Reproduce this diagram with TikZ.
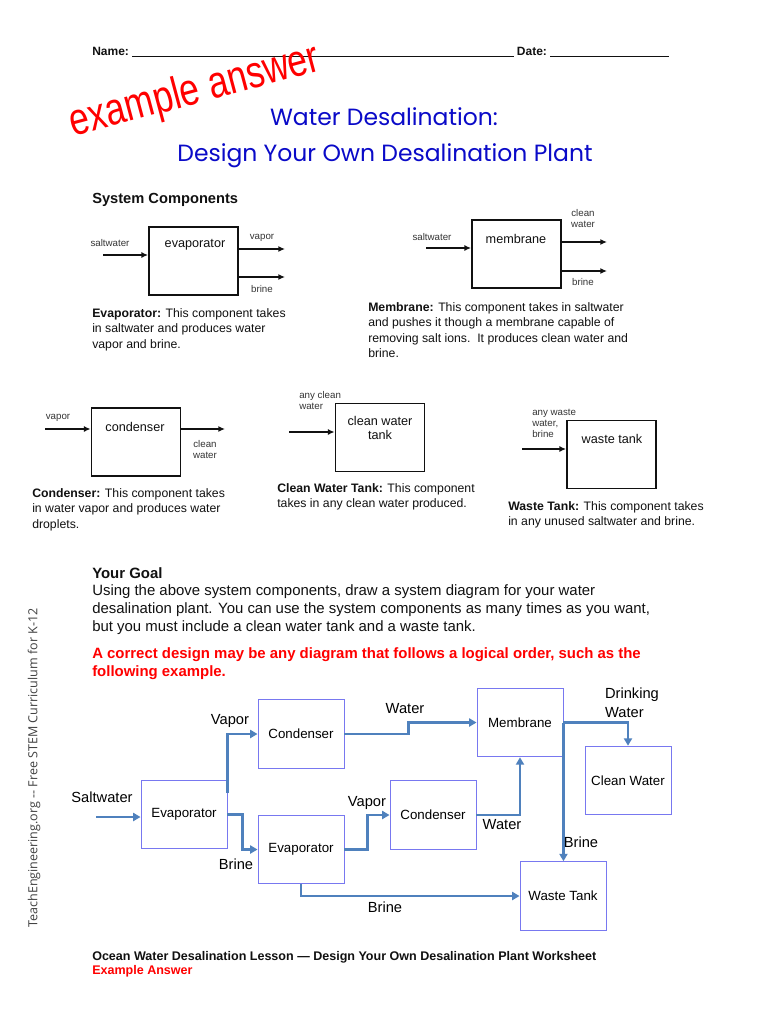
\documentclass[tikz,border=0pt]{standalone}
\usepackage{fontspec}
\setmainfont{Liberation Sans}
\newfontfamily\titlefont{Poppins}
\newfontfamily\sidefont{Open Sans}
\usetikzlibrary{arrows.meta,positioning}
\definecolor{flowblue}{HTML}{4F81BD}
\definecolor{boxblue}{HTML}{7878F0}
\definecolor{titleblue}{HTML}{0A0AC8}
\definecolor{answerred}{HTML}{FF0000}
\definecolor{ink}{HTML}{111111}
\tikzset{
  plain/.style={inner sep=0pt,font=\fontsize{9}{11}\selectfont,text=ink},
  titletext/.style={inner sep=0pt,font=\titlefont\fontsize{17.6}{21}\selectfont,text=titleblue},
  stamp/.style={inner sep=0pt,font=\fontsize{34}{34}\selectfont,text=answerred},
  headtext/.style={inner sep=0pt,font=\bfseries\fontsize{11}{13}\selectfont,text=ink},
  desc/.style={inner sep=0pt,align=left,font=\fontsize{9.2}{11.6}\selectfont,text=ink},
  goaltext/.style={inner sep=0pt,align=left,font=\fontsize{11.2}{13.3}\selectfont,text=ink},
  redtext/.style={inner sep=0pt,align=left,font=\bfseries\fontsize{11.2}{13.5}\selectfont,text=answerred},
  sidetext/.style={inner sep=0pt,font=\sidefont\fontsize{9.4}{10}\selectfont,text=ink!80},
  compbox/.style={draw=ink,line width=1.1pt,minimum width=67pt,minimum height=51pt,inner sep=0pt},
  comptext/.style={inner sep=0pt,align=center,font=\fontsize{9.5}{10}\selectfont,text=ink},
  smalltext/.style={inner sep=0pt,align=center,font=\fontsize{7.3}{8.2}\selectfont,text=ink!85},
  comparr/.style={-{Latex[length=5pt,width=4.5pt]},line width=1.2pt,draw=ink},
  flowbox/.style={draw=boxblue,line width=0.7pt,minimum width=64.5pt,minimum height=51.5pt,
                  inner sep=0pt,align=center,font=\fontsize{10}{12}\selectfont},
  flowarr/.style={-{Triangle[length=5.5pt,width=6pt]},line width=2pt,draw=flowblue},
  flowlabel/.style={inner sep=0pt,align=left,font=\fontsize{11}{14}\selectfont}
}
\begin{document}
\begin{tikzpicture}[x=0.75pt,y=-0.75pt,>=Latex]
\useasboundingbox[fill=white] (0,0) rectangle (770,1024);

\node[plain,anchor=west] (namedate) at (92,52)
  {\textbf{Name:}~\rule[-1pt]{286pt}{0.5pt}~\textbf{Date:}~\rule[-1pt]{89pt}{0.5pt}};
\node[stamp,rotate=15,xscale=0.78] (stamp) at (195,92) {example answer};
\node[titletext] (title1) at (384,117) {Water Desalination:};
\node[titletext] (title2) at (385,156) {Design Your Own Desalination Plant};
\node[headtext,anchor=west] (syscomp) at (92,200) {System Components};

% evaporator
\node[compbox] (evbox) at (193.5,261) {};
\node[comptext] (evtxt) at (195,245) {evaporator};
\coordinate (evin) at (103,255);
\coordinate (evvap) at (285,249);
\coordinate (evbrine) at (285,277);
\draw[comparr] (evin) -- (evin -| evbox.west);
\draw[comparr] (evvap -| evbox.east) -- (evvap);
\draw[comparr] (evbrine -| evbox.east) -- (evbrine);
\node[smalltext] (evsalt) at (110,243) {saltwater};
\node[smalltext] (evvaptxt) at (262,238) {vapor};
\node[smalltext] (evbrinetxt) at (262,289) {brine};
\node[desc,anchor=north west] (evdesc) at (92,308)
  {\textbf{Evaporator:} This component takes\\in saltwater and produces water\\vapor and brine.};

% membrane
\node[compbox] (mbbox) at (516.5,254) {};
\node[comptext] (mbtxt) at (516,239) {membrane};
\coordinate (mbin) at (426,248);
\coordinate (mbclean) at (607,242);
\coordinate (mbbrine) at (607,271);
\draw[comparr] (mbin) -- (mbin -| mbbox.west);
\draw[comparr] (mbclean -| mbbox.east) -- (mbclean);
\draw[comparr] (mbbrine -| mbbox.east) -- (mbbrine);
\node[smalltext] (mbsalt) at (432,237) {saltwater};
\node[smalltext] (mbcleantxt) at (583,218.5) {clean\\water};
\node[smalltext] (mbbrinetxt) at (583,282) {brine};
\node[desc,anchor=north west] (mbdesc) at (368,302)
  {\textbf{Membrane:} This component takes in saltwater\\and pushes it though a membrane capable of\\removing salt ions.\ \ It produces clean water and\\brine.};

% condenser
\node[compbox] (cdbox) at (136,442) {};
\node[comptext] (cdtxt) at (135,427) {condenser};
\coordinate (cdin) at (45,429);
\coordinate (cdout) at (225,429);
\draw[comparr] (cdin) -- (cdin -| cdbox.west);
\draw[comparr] (cdout -| cdbox.east) -- (cdout);
\node[smalltext] (cdvap) at (58,418) {vapor};
\node[smalltext] (cdcleantxt) at (205,449.5) {clean\\water};
\node[desc,anchor=north west] (cddesc) at (32,488)
  {\textbf{Condenser:} This component takes\\in water vapor and produces water\\droplets.};

% clean water tank
\node[compbox] (cwbox) at (380,437.5) {};
\node[comptext] (cwtxt) at (380,428) {clean water\\tank};
\coordinate (cwin) at (289,432);
\draw[comparr] (cwin) -- (cwin -| cwbox.west);
\node[smalltext,align=left,anchor=west] (cwintxt) at (299,400.5) {any clean\\water};
\node[desc,anchor=north west] (cwdesc) at (277,483)
  {\textbf{Clean Water Tank:} This component\\takes in any clean water produced.};

% waste tank
\node[compbox] (wtbox) at (611.5,454.5) {};
\node[comptext] (wttxt) at (612,439) {waste tank};
\coordinate (wtin) at (522,449);
\draw[comparr] (wtin) -- (wtin -| wtbox.west);
\node[smalltext,align=left,anchor=west] (wtintxt) at (532,423) {any waste\\water,\\brine};
\node[desc,anchor=north west] (wtdesc) at (508,501)
  {\textbf{Waste Tank:} This component takes\\in any unused saltwater and brine.};

\node[sidetext,rotate=90] (side) at (34,768)
  {TeachEngineering.org -- Free STEM Curriculum for K-12};

\node[goaltext,anchor=north west] (goal) at (92,567)
  {\textbf{Your Goal}\\Using the above system components, draw a system diagram for your water\\desalination plant. You can use the system components as many times as you want,\\but you must include a clean water tank and a waste tank.};
\node[redtext,anchor=north west] (correct) at (92,647)
  {A correct design may be any diagram that follows a logical order, such as the\\following example.};

% example plant
\node[flowbox] (evapA) at (184,814.5) {Evaporator};
\node[flowbox] (condA) at (301,734) {Condenser};
\node[flowbox] (evapB) at (301,849.5) {Evaporator};
\node[flowbox] (condB) at (433,815) {Condenser};
\node[flowbox] (memb) at (520,722.5) {Membrane};
\node[flowbox] (clean) at (628,780.5) {Clean Water};
\node[flowbox] (waste) at (563,896) {Waste Tank};
\coordinate (saltin) at (96,817);
\draw[flowarr] (saltin) -- (saltin -| evapA.west);
\draw[flowarr] ([yshift=16pt]evapA.east) |- (condA.west);
\draw[flowarr] (evapA.east) -- ++(15,0) |- (evapB.west);
\draw[flowarr] (evapB.east) -- ++(23,0) |- (condB.west);
\draw[flowarr] (condA.east) -- ++(64,0) |- (memb.west);
\draw[flowarr] (condB.east) -| (memb.south);
\draw[flowarr] (memb.east) -| (clean.north);
\draw[flowarr] (memb.east) -- (memb.east |- waste.north);
\draw[flowarr] (evapB.south) |- (waste.west);
\node[flowlabel] (saltlbl) at (102,797) {Saltwater};
\node[flowlabel] (vapA) at (230,721) {Vapor};
\node[flowlabel] (brineA) at (236,864) {Brine};
\node[flowlabel] (vapB) at (367,803) {Vapor};
\node[flowlabel] (waterA) at (405,709) {Water};
\node[flowlabel] (waterB) at (502,825) {Water};
\node[flowlabel] (drink) at (632,703) {Drinking\\Water};
\node[flowlabel] (brineM) at (581,842) {Brine};
\node[flowlabel] (brineB) at (385,907) {Brine};

\node[desc,anchor=north west,font=\bfseries\fontsize{9.4}{10.5}\selectfont] (footer) at (92,951)
  {Ocean Water Desalination Lesson --- Design Your Own Desalination Plant Worksheet\\\textcolor{answerred}{Example Answer}};
\end{tikzpicture}
\end{document}
